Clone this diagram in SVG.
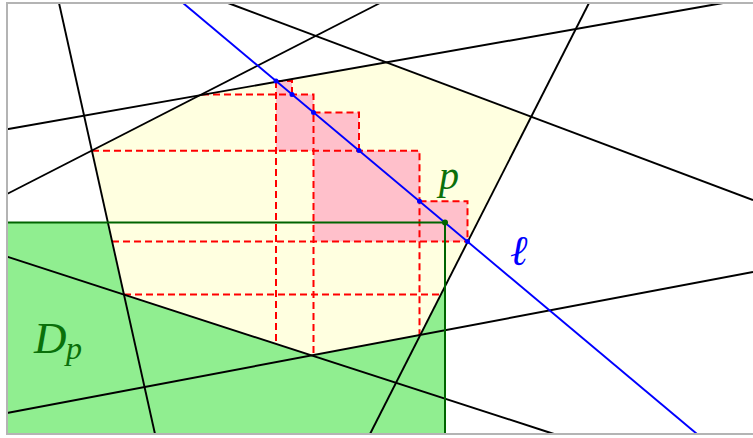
<svg xmlns="http://www.w3.org/2000/svg" width="753" height="438" viewBox="0 0 753 438">
<style>
.ln{stroke:#000;stroke-width:1.9;fill:none}
.dash{stroke:#ff0000;stroke-width:2;stroke-dasharray:7 4;fill:none}
.lbl{font-family:"Liberation Serif",serif;font-style:italic}
.dot{fill:#0000ff}
</style>
<rect x="0" y="0" width="753" height="438" fill="#fff"/>
<g id="regionD">
<rect x="7" y="222.5" width="438" height="211.5" fill="#90ee90"/>
</g>
<g id="cell">
<polygon points="92,150.6 199.7,94.9 386.4,62.4 531.2,116.6 420.4,334.9 311.6,355.4 123.9,294.6" fill="#ffffe0"/>
</g>
<g id="pink">
<polygon points="276,81 292,81 292,94.5 313.5,94.5 313.5,112.5 359,112.5 359,150.8 419.5,150.8 419.5,201.3 467.5,201.3 467.5,241.5 313.5,241.5 313.5,150.8 276,150.8" fill="#ffc0cb"/>
</g>
<g id="grid">
<path class="dash" d="M276,81H292V94.5M202,94.5H313.5V355.3M313.5,112.5H359V150.8M92,150.8H419.5V335M419.5,201.3H467.5V241.5M112,241.5H467.5M124,294.4H441M276,81V344"/>
</g>
<g id="connectors">
<line class="ln" x1="59" y1="3" x2="155" y2="434"/>
<line class="ln" x1="7" y1="129.3" x2="723" y2="3"/>
<line class="ln" x1="7" y1="194" x2="380" y2="3"/>
<line class="ln" x1="228" y1="3" x2="753" y2="200"/>
<line class="ln" x1="589" y1="3" x2="370" y2="434"/>
<line class="ln" x1="7" y1="256.7" x2="554" y2="434"/>
<line class="ln" x1="7" y1="413" x2="753" y2="272"/>
<line x1="183" y1="3" x2="697" y2="434" stroke="#0000ff" stroke-width="1.9"/>
<path d="M7,222.5H445V434" stroke="#006400" stroke-width="2" fill="none"/>
</g>
<g id="dots">
<circle class="dot" cx="276" cy="81" r="2.5"/>
<circle class="dot" cx="292" cy="94.4" r="2.5"/>
<circle class="dot" cx="313.5" cy="112.4" r="2.5"/>
<circle class="dot" cx="359" cy="150.6" r="2.5"/>
<circle class="dot" cx="419.5" cy="201.3" r="2.5"/>
<circle class="dot" cx="467.5" cy="241.5" r="2.5"/>
<circle cx="445" cy="222.5" r="3" fill="#006400"/>
</g>
<rect x="7" y="3" width="760" height="431" fill="none" stroke="#b4b4b4" stroke-width="2"/>
<g id="labels">
<text class="lbl" x="439" y="189" font-size="40" fill="#0a700a">p</text>
<text class="lbl" x="510" y="265" font-size="42" fill="#0000ff">ℓ</text>
<text class="lbl" x="34" y="353" font-size="45" fill="#0a700a">D</text>
<text class="lbl" x="66" y="359" font-size="32" fill="#0a700a">p</text>
</g>
</svg>
